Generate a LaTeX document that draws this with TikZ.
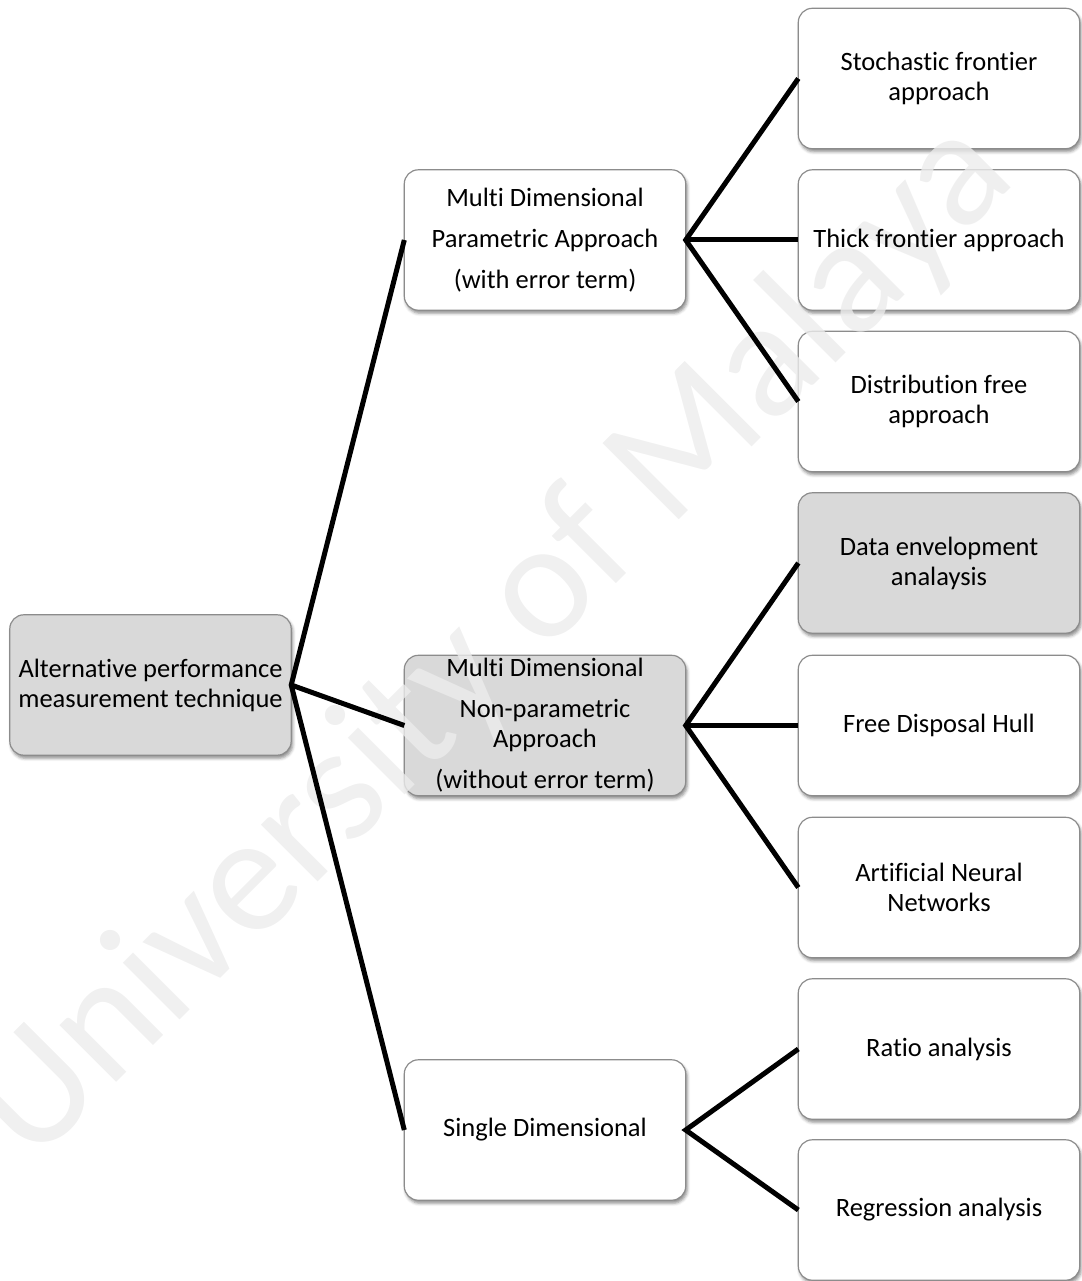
\documentclass[tikz,border=0pt]{standalone}
\usepackage{fontspec}
\setmainfont{Carlito}[Ligatures=NoCommon]
\usetikzlibrary{shadows.blur}

\pgfdeclarelayer{boxes}
\pgfdeclarelayer{mark}
\pgfsetlayers{boxes,mark,main}

\definecolor{boxgray}{HTML}{D9D9D9}
\definecolor{boxedge}{HTML}{8C8C8C}
\definecolor{markgray}{RGB}{236,236,236}

\begin{document}
\begin{tikzpicture}[x=1pt,y=-1pt,
  boxtext/.style={align=center, font=\fontsize{26.5}{30}\selectfont,
    inner sep=0pt, minimum width=281pt, minimum height=140pt},
  boxbody/.style={draw=boxedge, line width=1.2pt, rounded corners=14pt,
    blur shadow={shadow xshift=1.5pt, shadow yshift=-3pt,
      shadow blur radius=3pt, shadow opacity=45}},
  connector/.style={line width=5pt, line join=miter}]

\useasboundingbox (0,0) rectangle (1081,1281);

% root
\node[boxtext] (root) at (150.5,685) {Alternative performance\\measurement technique};

% second level
\node[boxtext] (par) at (545,240)
  {Multi Dimensional\\[11pt]Parametric Approach\\[11pt](with error term)};
\node[boxtext] (nonpar) at (545,725.5)
  {Multi Dimensional\\[11pt]Non-parametric\\Approach\\[11pt](without error term)};
\node[boxtext] (single) at (545,1130) {Single Dimensional};

% leaves
\node[boxtext] (sfa)   at (939,78.5)   {Stochastic frontier\\approach};
\node[boxtext] (tfa)   at (939,240)    {Thick frontier approach};
\node[boxtext] (dfa)   at (939,401.5)  {Distribution free\\approach};
\node[boxtext] (dea)   at (939,563)    {Data envelopment\\analaysis};
\node[boxtext] (fdh)   at (939,725.5)  {Free Disposal Hull};
\node[boxtext] (ann)   at (939,887.5)  {Artificial Neural\\Networks};
\node[boxtext] (ratio) at (939,1049)   {Ratio analysis};
\node[boxtext] (regr)  at (939,1210)   {Regression analysis};

% box bodies behind the text
\begin{pgfonlayer}{boxes}
  \foreach \n in {root,nonpar,dea}
    \path[boxbody, fill=boxgray] (\n.north west) rectangle (\n.south east);
  \foreach \n in {par,single,sfa,tfa,dfa,fdh,ann,ratio,regr}
    \path[boxbody, fill=white] (\n.north west) rectangle (\n.south east);
\end{pgfonlayer}

% faint diagonal lettering over the box bodies
\begin{pgfonlayer}{mark}
  \node[rotate=45, text=markgray, text opacity=0.8,
    font=\fontsize{168}{168}\selectfont] (wm) at (494,642) {University of Malaya};
\end{pgfonlayer}

% connectors
\draw[connector] (par.west) -- (root.east) -- (single.west);
\draw[connector] (root.east) -- (nonpar.west);

\draw[connector] (sfa.west) -- (par.east) -- (dfa.west);
\draw[connector] (par.east) -- (tfa.west);

\draw[connector] (dea.west) -- (nonpar.east) -- (ann.west);
\draw[connector] (nonpar.east) -- (fdh.west);

\draw[connector] (ratio.west) -- (single.east) -- (regr.west);

\end{tikzpicture}
\end{document}
